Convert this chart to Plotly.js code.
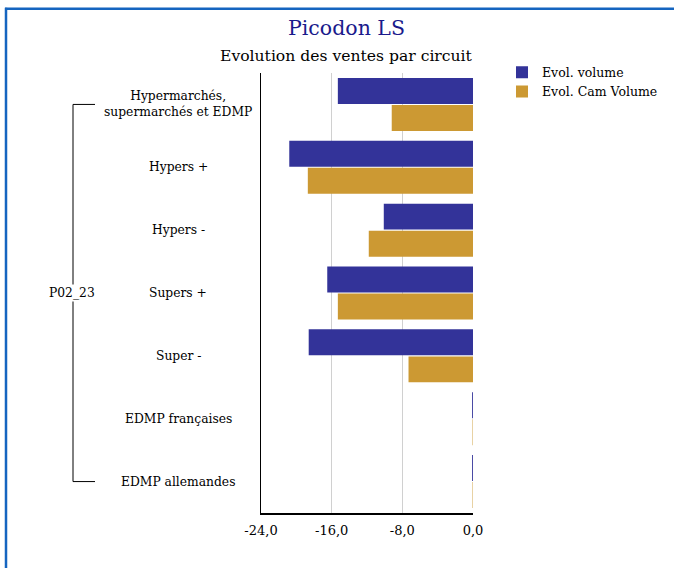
<!DOCTYPE html>
<html>
<head>
<meta charset="utf-8">
<script src="https://cdn.plot.ly/plotly-3.0.1.min.js"></script>
<style>html,body{margin:0;padding:0;background:#fff;}#chart{width:674px;height:568px;}</style>
</head>
<body>
<div id="chart"></div>
<script>
const categories = [
  "Hypermarchés,<br>supermarchés et EDMP",
  "Hypers +",
  "Hypers -",
  "Supers +",
  "Super -",
  "EDMP françaises",
  "EDMP allemandes"
];
const groupLabel = "P02_23";
const seriesNames = ["Evol. volume", "Evol. Cam Volume"];
const evolVolume = [-15.3, -20.8, -10.1, -16.5, -18.6, -0.1, -0.1];
const evolCamVolume = [-9.2, -18.7, -11.8, -15.3, -7.3, -0.05, -0.05];
const tickVals = [-24, -16, -8, 0];
const tickText = ["-24,0", "-16,0", "-8,0", "0,0"];
const mainTitle = "Picodon LS";
const subTitle = "Evolution des ventes par circuit";

const FONT = "DejaVu Serif, serif";
const W = 674, H = 568;
const L = 261, R = 473, T = 72.5, B = 513.5;
const px = x => (x - L) / (R - L);
const py = y => (B - y) / (B - T);

const traces = [
  {type: "bar", orientation: "h", name: seriesNames[0], y: categories, x: evolVolume,
   marker: {color: "#333399"}, hoverinfo: "x"},
  {type: "bar", orientation: "h", name: seriesNames[1], y: categories, x: evolCamVolume,
   marker: {color: "#CC9933"}, hoverinfo: "x"}
];

const annotations = categories.map(c => ({
  xref: "paper", yref: "y", x: px(178), y: c, text: c, showarrow: false,
  xanchor: "center", yanchor: "middle", align: "center",
  font: {family: FONT, size: 12.3, color: "#000"}
}));
annotations.push({xref: "paper", yref: "y", x: px(72), y: categories[3], text: groupLabel,
  showarrow: false, xanchor: "center", yanchor: "middle", bgcolor: "#fff",
  font: {family: FONT, size: 12.3, color: "#000"}});
annotations.push({xref: "paper", yref: "paper", x: px(346), y: py(27), text: mainTitle,
  showarrow: false, xanchor: "center", yanchor: "middle",
  font: {family: FONT, size: 20.5, color: "#1a1a8c"}});
annotations.push({xref: "paper", yref: "paper", x: px(346), y: py(55), text: subTitle,
  showarrow: false, xanchor: "center", yanchor: "middle",
  font: {family: FONT, size: 15.6, color: "#000"}});

const shapes = [
  {type: "line", xref: "paper", yref: "y", x0: px(73), x1: px(73), y0: categories[0], y1: categories[6], line: {color: "#000", width: 1}},
  {type: "line", xref: "paper", yref: "y", x0: px(73), x1: px(95), y0: categories[0], y1: categories[0], line: {color: "#000", width: 1}},
  {type: "line", xref: "paper", yref: "y", x0: px(73), x1: px(95), y0: categories[6], y1: categories[6], line: {color: "#000", width: 1}},
  {type: "line", xref: "paper", yref: "paper", x0: px(6), x1: px(6), y0: py(7), y1: py(570), line: {color: "#1565c0", width: 2.5}},
  {type: "line", xref: "paper", yref: "paper", x0: px(5), x1: px(676), y0: py(8), y1: py(8), line: {color: "#1565c0", width: 2.5}}
];

const layout = {
  width: W, height: H,
  margin: {l: L, r: W - R, t: T, b: H - B, pad: 0, autoexpand: false},
  paper_bgcolor: "#fff", plot_bgcolor: "#fff",
  barmode: "group", bargap: 0.14, bargroupgap: 0.04,
  separators: ",.",
  showlegend: true,
  legend: {x: px(502), y: py(57), xanchor: "left", yanchor: "top",
    font: {family: FONT, size: 12.5, color: "#000"}, tracegroupgap: 0,
    itemwidth: 30, bgcolor: "rgba(0,0,0,0)"},
  xaxis: {range: [-24, 0], tickvals: tickVals, ticktext: tickText,
    showgrid: true, gridcolor: "#d0d0d0", gridwidth: 1,
    zeroline: false, showline: true, linecolor: "#000", linewidth: 1.5,
    ticks: "", ticklabelstandoff: 5, tickfont: {family: FONT, size: 13, color: "#000"}, fixedrange: true},
  yaxis: {type: "category", autorange: "reversed", showticklabels: false,
    showgrid: false, zeroline: false, showline: true, linecolor: "#000", linewidth: 1.5,
    ticks: "", fixedrange: true},
  annotations: annotations,
  shapes: shapes,
  font: {family: FONT}
};

Plotly.newPlot("chart", traces, layout, {displayModeBar: false, staticPlot: true});
</script>
</body>
</html>
